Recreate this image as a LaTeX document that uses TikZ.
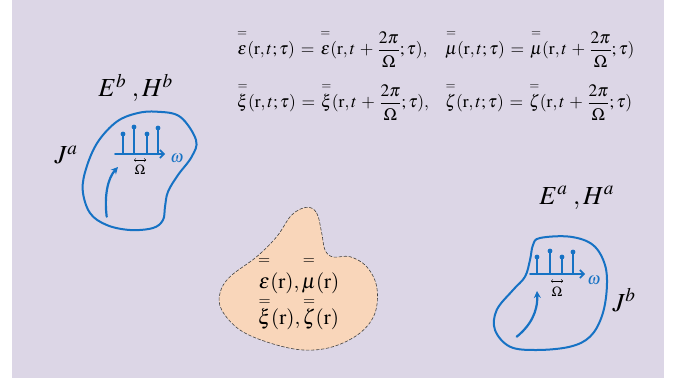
\documentclass[tikz,border=0pt]{standalone}
\usepackage{amsmath}
\usepackage{mathptmx}
\usetikzlibrary{arrows.meta}
\definecolor{bgpurple}{RGB}{220,214,230}
\definecolor{ablue}{RGB}{22,114,196}
\definecolor{peach}{RGB}{249,214,186}
\newcommand{\dyad}[2][15pt]{\overset{\raisebox{#1}{$\scriptstyle=$}}{\smash[t]{#2}}}

\begin{document}
\begin{tikzpicture}[x=1pt,y=-1pt,line cap=round,line join=round,
  region/.style={draw=ablue,line width=2pt},
  stem/.style={draw=ablue,line width=1.3pt},
  flow/.style={draw=ablue,line width=2.2pt,-{Stealth[length=7pt,width=7pt]}},
  axis/.style={draw=ablue,line width=1.6pt,-{Straight Barb[length=4pt,width=8pt]}},
  gap/.style={draw=black,line width=0.5pt,{Straight Barb[length=1.5pt,width=3pt]}-{Straight Barb[length=1.5pt,width=3pt]}},
  big/.style={font=\fontsize{26}{29}\selectfont,inner sep=0pt},
  eqn/.style={font=\fontsize{17.5}{20}\selectfont,anchor=base west,inner sep=0pt},
  mat/.style={font=\fontsize{21}{24}\selectfont,anchor=base west,inner sep=0pt},
  tick/.style={font=\fontsize{14}{16}\selectfont,inner sep=0pt}]
  \useasboundingbox (0,0) rectangle (679,382);
  \fill[bgpurple] (12,0) rectangle (664,378);

  \node[eqn] (eps) at (237,55) {$\dyad{\varepsilon}(\mathrm{r},t;\tau)\,=\,\dyad{\varepsilon}(\mathrm{r},t\,+\,\dfrac{2\pi}{\Omega};\tau),$};
  \node[eqn] (mu) at (445,55) {$\dyad{\mu}(\mathrm{r},t;\tau)\,=\,\dyad{\mu}(\mathrm{r},t\,+\,\dfrac{2\pi}{\Omega};\tau)$};
  \node[eqn] (xi) at (237,108) {$\dyad{\xi}(\mathrm{r},t;\tau)\,=\,\dyad{\xi}(\mathrm{r},t\,+\,\dfrac{2\pi}{\Omega};\tau),$};
  \node[eqn] (zeta) at (445,108) {$\dyad{\zeta}(\mathrm{r},t;\tau)\,=\,\dyad{\zeta}(\mathrm{r},t\,+\,\dfrac{2\pi}{\Omega};\tau)$};

  \draw[region] plot[smooth cycle,tension=0.6] coordinates {(156.7,111.7) (180,116.7) (196,140) (191.7,156.7) (178,175) (168,191.7) (165,206.7) (163,220) (153,228) (130,230) (106.7,225) (90,213) (82.7,190) (86.7,166.7) (98,141.7) (116.7,121.7) (136.7,113.3)};
  \draw[region] plot[smooth cycle,tension=0.6] coordinates {(540,238) (570,236.7) (593,245) (605,265) (606.7,290) (601.7,316.7) (590,336.7) (570,346.7) (536.7,350) (510,346.7) (495,330) (496.7,310) (513,290) (525,276.7) (530,260) (533,245)};
  \draw[fill=peach,draw=black!75,line width=0.6pt,dash pattern=on 3pt off 2pt] plot[smooth cycle,tension=0.6] coordinates {(306.7,207.3) (316.7,213) (321.7,233) (325,250) (333,257) (350,256.7) (366.7,266.7) (376.7,286.7) (375,313) (360,333) (333,346.7) (303,350) (270,343) (240,330) (221.7,310) (220,293) (230,276.7) (256.7,256.7) (276.7,236.7) (291.7,215)};

  \node[big] (fieldb) at (135.5,88) {$E^{b}\;,H^{b}$};
  \node[big] (fielda) at (576.7,198) {$E^{a}\;,H^{a}$};
  \node[big] (srca) at (66,155) {$J^{a}$};
  \node[big] (srcb) at (624,300) {$J^{b}$};

  \begin{scope}[shift={(115,154)}]
    \draw[stem] (8,0)--(8,-20) (19,0)--(19,-27) (32,0)--(32,-20) (43,0)--(43,-26);
    \fill[ablue] (8,-20) circle (2.4pt) (19,-27) circle (2.4pt) (32,-20) circle (2.4pt) (43,-26) circle (2.4pt);
    \draw[axis] (0,0)--(50,0);
    \node[tick,text=ablue,font=\fontsize{17}{19}\selectfont] (wa) at (62,4) {$\omega$};
    \node[tick] (Wa) at (25,16) {$\Omega$};
    \draw[gap] (19,6)--(31,6);
  \end{scope}
  \draw[flow] (106.7,216.7) .. controls (104,195) and (108,178) .. (118,167);

  \begin{scope}[shift={(530,274)}]
    \draw[stem] (7,0)--(7,-17) (20,0)--(20,-23) (32,0)--(32,-17) (43,0)--(43,-22);
    \fill[ablue] (7,-17) circle (2.4pt) (20,-23) circle (2.4pt) (32,-17) circle (2.4pt) (43,-22) circle (2.4pt);
    \draw[axis] (0,0)--(55,0);
    \node[tick,text=ablue,font=\fontsize{17}{19}\selectfont] (wb) at (64,6) {$\omega$};
    \node[tick] (Wb) at (27,18) {$\Omega$};
    \draw[gap] (21,7)--(33,7);
  \end{scope}
  \draw[flow] (516.7,336.7) .. controls (530,326) and (538,312) .. (537,291);

  \node[mat] (epsmu) at (258,288) {$\dyad[19pt]{\varepsilon}(\mathrm{r}),\dyad[19pt]{\mu}(\mathrm{r})$};
  \node[mat] (xizeta) at (258,324) {$\dyad[14.5pt]{\xi}(\mathrm{r}),\dyad[14.5pt]{\zeta}(\mathrm{r})$};
\end{tikzpicture}
\end{document}
